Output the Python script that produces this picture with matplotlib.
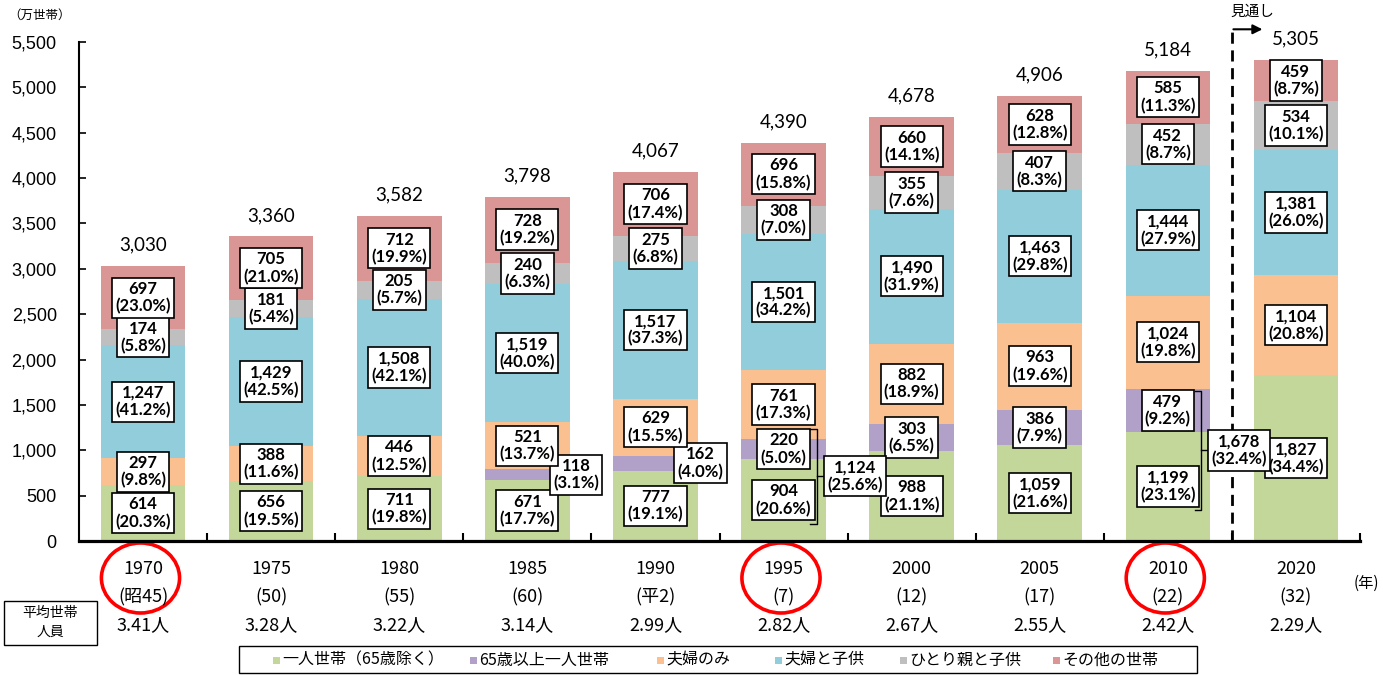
import numpy as np
import matplotlib.pyplot as plt
import matplotlib.transforms as mtransforms
from matplotlib.patches import Ellipse, Rectangle

plt.rcParams['font.family'] = ['Noto Sans CJK JP', 'DejaVu Sans']

# 世帯構成別の世帯数（万世帯）と構成比（%）
years = ['1970', '1975', '1980', '1985', '1990', '1995', '2000', '2005', '2010', '2020']
eras = ['(昭45)', '(50)', '(55)', '(60)', '(平2)', '(7)', '(12)', '(17)', '(22)', '(32)']
avg_size = ['3.41人', '3.28人', '3.22人', '3.14人', '2.99人', '2.82人', '2.67人', '2.55人', '2.42人', '2.29人']
totals = [3030, 3360, 3582, 3798, 4067, 4390, 4678, 4906, 5184, 5305]

single = [614, 656, 711, 671, 777, 904, 988, 1059, 1199, 1827]
single_pct = [20.3, 19.5, 19.8, 17.7, 19.1, 20.6, 21.1, 21.6, 23.1, 34.4]
elderly = [0, 0, 0, 118, 162, 220, 303, 386, 479, 0]
elderly_pct = [None, None, None, 3.1, 4.0, 5.0, 6.5, 7.9, 9.2, None]
couple = [297, 388, 446, 521, 629, 761, 882, 963, 1024, 1104]
couple_pct = [9.8, 11.6, 12.5, 13.7, 15.5, 17.3, 18.9, 19.6, 19.8, 20.8]
couple_child = [1247, 1429, 1508, 1519, 1517, 1501, 1490, 1463, 1444, 1381]
couple_child_pct = [41.2, 42.5, 42.1, 40.0, 37.3, 34.2, 31.9, 29.8, 27.9, 26.0]
one_parent = [174, 181, 205, 240, 275, 308, 355, 407, 452, 534]
one_parent_pct = [5.8, 5.4, 5.7, 6.3, 6.8, 7.0, 7.6, 8.3, 8.7, 10.1]
other = [697, 705, 712, 728, 706, 696, 660, 628, 585, 459]
other_pct = [23.0, 21.0, 19.9, 19.2, 17.4, 15.8, 14.1, 12.8, 11.3, 8.7]

# 一人世帯の合計（1995, 2010）
sum_idx = [5, 8]
sum_val = [1124, 1678]
sum_pct = [25.6, 32.4]

series = [single, elderly, couple, couple_child, one_parent, other]
pcts = [single_pct, elderly_pct, couple_pct, couple_child_pct, one_parent_pct, other_pct]
names = ['一人世帯（65歳除く）', '65歳以上一人世帯', '夫婦のみ', '夫婦と子供', 'ひとり親と子供', 'その他の世帯']
colors = ['#C4D79B', '#B1A0C7', '#FAC090', '#92CDDC', '#BFBFBF', '#DA9694']

W, H = 1383, 675
fig = plt.figure(figsize=(W / 100, H / 100), dpi=100)
ax = fig.add_axes([79 / W, 1 - 541 / H, (1360 - 79) / W, 499 / H])

x = np.arange(len(years))
bottom = np.zeros(len(years))
box = dict(boxstyle='square,pad=0.2', fc='white', ec='black', lw=1.2)
lab_kw = dict(ha='center', va='center', fontsize=12, fontweight='bold', family='Lato',
              linespacing=1.1, bbox=box)
for vals, pc, col in zip(series, pcts, colors):
    vals = np.array(vals, dtype=float)
    ax.bar(x, vals, 0.66, bottom=bottom, color=col, zorder=2)
    for i in range(len(years)):
        if vals[i] == 0:
            continue
        xx = i
        # 1985・1990 の65歳以上一人世帯は棒の右側に
        if col == '#B1A0C7' and years[i] == '1985':
            xx = i + 0.38
        if col == '#B1A0C7' and years[i] == '1990':
            xx = i + 0.35
        ax.text(xx, bottom[i] + vals[i] / 2, '{:,}\n({:.1f}%)'.format(int(vals[i]), pc[i]),
                zorder=5, **lab_kw)
    bottom += vals

for i in range(len(years)):
    ax.annotate('{:,}'.format(totals[i]), (i, bottom[i]), xytext=(0, 15), textcoords='offset points',
                ha='center', va='center', fontsize=13.5, family='Lato')

# 一人世帯合計の括弧
for k, i in enumerate(sum_idx):
    top = single[i] + elderly[i] / 2 + 220
    bot = single[i] / 2 - 260
    mid = (top + bot) / 2
    xv = i + 0.26
    ax.plot([xv - 0.05, xv, xv, xv - 0.05], [top, top, bot, bot], color='black', lw=1, zorder=6, clip_on=False)
    ax.plot([xv, xv + 0.07], [mid, mid], color='black', lw=1, zorder=6, clip_on=False)
    ax.text(i + 0.555, mid, '{:,}\n({:.1f}%)'.format(sum_val[k], sum_pct[k]), zorder=7, **lab_kw)

# 見通し
ax.plot([8.5, 8.5], [0, 5640], color='black', lw=2, linestyle=(0, (4, 2.4)), zorder=4, clip_on=False)
ax.annotate('', xy=(8.76, 5640), xytext=(8.49, 5640),
            arrowprops=dict(arrowstyle='-|>', color='black', lw=1.5, mutation_scale=14), annotation_clip=False)
ax.text(8.66, 5830, '見通し', ha='center', va='center', fontsize=10.5)

ax.set_xlim(-0.5, 9.5)
ax.set_ylim(0, 5500)
ax.set_yticks(np.arange(0, 5501, 500))
ax.set_yticklabels(['{:,}'.format(v) for v in range(0, 5501, 500)], family='Liberation Sans')
ax.tick_params(axis='y', direction='in', length=5, width=1.2, labelsize=13, pad=16)
ax.set_xticks(x)
ax.set_xticklabels([])
ax.tick_params(axis='x', which='major', length=0)
ax.set_xticks(np.arange(0.5, 9.6, 1), minor=True)
ax.tick_params(axis='x', which='minor', direction='in', length=6, width=1.5)
for s in ['top', 'right']:
    ax.spines[s].set_visible(False)
ax.spines['left'].set_linewidth(1.5)
ax.spines['bottom'].set_linewidth(2.3)

fig.text(40 / W, 1 - 15 / H, '（万世帯）', ha='center', va='center', fontsize=9)

# 年・平均世帯人員
tr = mtransforms.blended_transform_factory(ax.transData, fig.transFigure)
for i in range(len(years)):
    ax.text(i, 1 - 569 / H, years[i], transform=tr, ha='center', va='center', fontsize=13)
    ax.text(i, 1 - 597 / H, eras[i], transform=tr, ha='center', va='center', fontsize=13)
    ax.text(i, 1 - 625 / H, avg_size[i], transform=tr, ha='center', va='center', fontsize=13)
ax.text(9.55, 1 - 583 / H, '(年)', transform=tr, ha='center', va='center', fontsize=11)

for i in [0, 5, 8]:
    ax.add_patch(Ellipse((i - 0.02, 1 - 578 / H), 0.61, 70 / H, transform=tr, fill=False,
                         ec='red', lw=2.6, clip_on=False))

fig.patches.append(Rectangle((4 / W, 1 - 645 / H), 93 / W, 44 / H, transform=fig.transFigure,
                             fill=False, ec='black', lw=1))
fig.text(50 / W, 1 - 613 / H, '平均世帯', ha='center', va='center', fontsize=10)
fig.text(50 / W, 1 - 632 / H, '人員', ha='center', va='center', fontsize=10)

# 凡例
fig.patches.append(Rectangle((239 / W, 1 - 673 / H), 958 / W, 27 / H, transform=fig.transFigure,
                             fill=False, ec='black', lw=1))
leg_x = [273, 470, 657, 775, 900, 1053]
for lx, name, col in zip(leg_x, names, colors):
    fig.patches.append(Rectangle((lx / W, 1 - 663.5 / H), 7 / W, 7 / H, transform=fig.transFigure,
                                 fc=col, ec='none'))
    fig.text((lx + 9) / W, 1 - 660 / H, name, ha='left', va='center', fontsize=11.5)

fig.savefig('out.png', dpi=100)
